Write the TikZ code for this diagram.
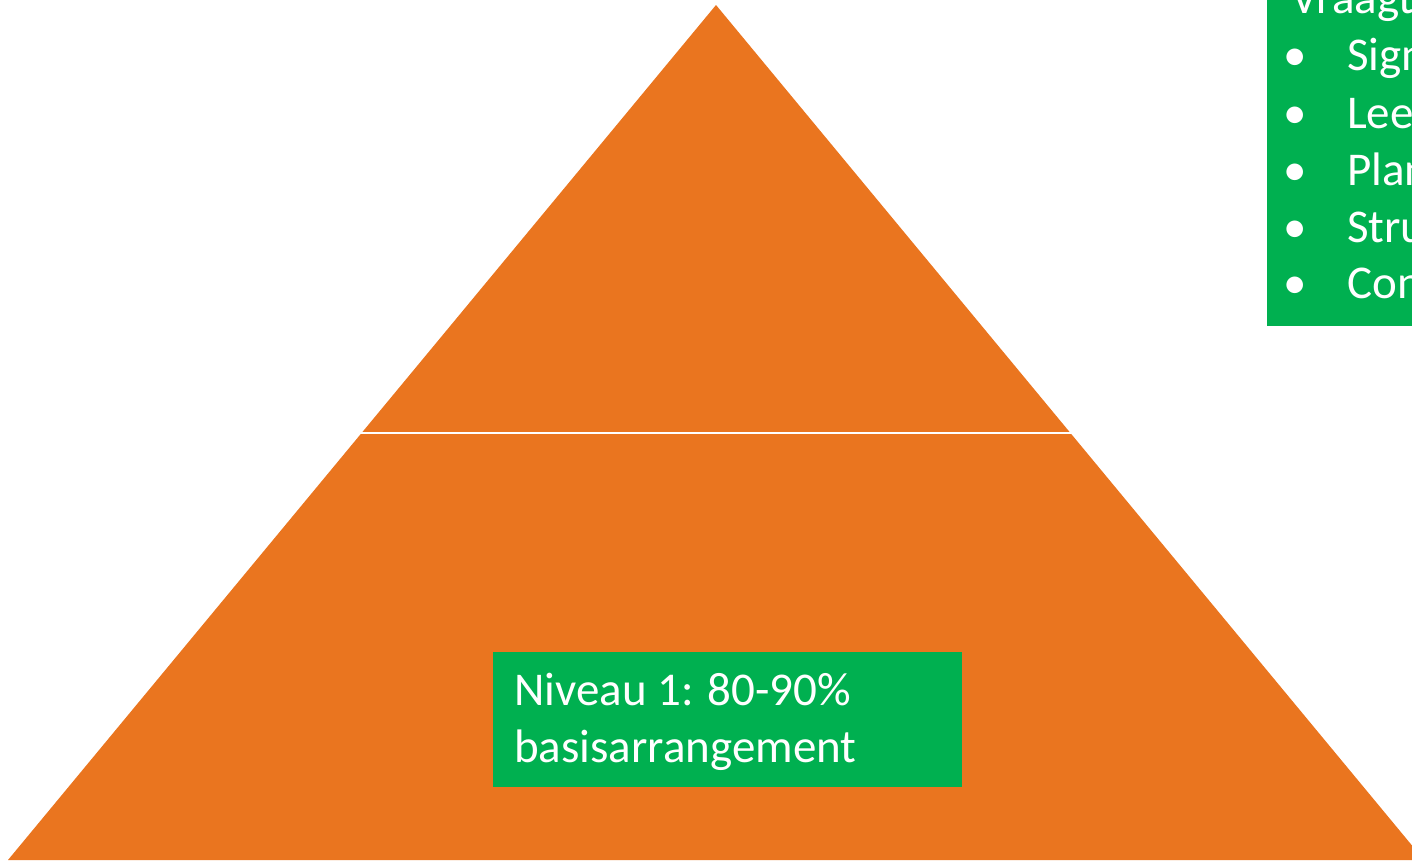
\documentclass[tikz,border=0pt]{standalone}
\usepackage{fontspec}
\setmainfont{Carlito}
\definecolor{pyrorange}{HTML}{EA751F}
\definecolor{boxgreen}{HTML}{00B050}
\tikzset{
  greenbox/.style={fill=boxgreen, draw=none},
  label/.style={text=white, font=\fontsize{47}{57}\selectfont, inner sep=0pt, anchor=base west},
  bulletmark/.style={text=white, font=\fontsize{47}{57}\selectfont, inner sep=0pt, anchor=base},
}
\begin{document}
\begin{tikzpicture}[x=1pt,y=-1pt]
\useasboundingbox (0,0) rectangle (1412,862);
\clip (0,0) rectangle (1412,862);
% pyramid
\coordinate (apex) at (716,5);
\coordinate (bl) at (8,860);
\coordinate (br) at (1424,860);
\fill[pyrorange] (apex) -- (br) -- (bl) -- cycle;
\coordinate (sl) at (358,433);
\coordinate (sr) at (1074,433);
\draw[white, line width=2.6pt] (sl) -- (sr);
% bottom green box
\fill[greenbox] (493,652) rectangle (962,787);
\node[label] (n1) at (514,705) {Niveau 1: 80-90\%};
\node[label] (n2) at (514,762) {basisarrangement};
% top right green box
\fill[greenbox] (1267,-10) rectangle (1430,326);
\node[label] (t0) at (1291,13) {Vraagt};
\foreach \y/\w [count=\i] in {70/Sign,128/Lee,185/Plan,242/Stru,298/Con}{
  \node[bulletmark] (b\i) at (1295,\y) {•};
  \node[label] (w\i) at (1347,\y) {\w};
}
\end{tikzpicture}
\end{document}
